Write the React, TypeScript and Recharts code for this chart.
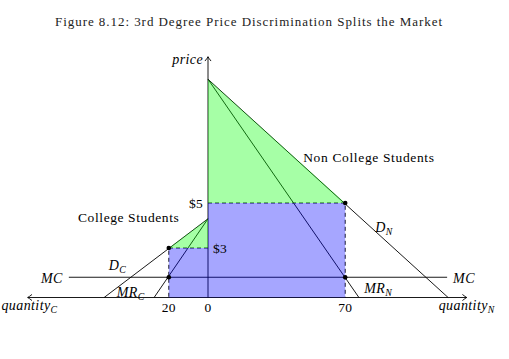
import React from 'react';
import { ComposedChart, Line, Area, Scatter, XAxis, YAxis, ReferenceDot } from 'recharts';

// ---------- data (quantities: N to the right of the price axis, C to the left) ----------
const MARKETS = ['N', 'C'];
const PRICE_N = 5; // price charged to non college students
const QTY_N = 70; // quantity sold to non college students
const PRICE_C = 3; // price charged to college students
const QTY_C = 20; // quantity sold to college students
const MC = 1.7; // marginal cost level
const BASE = 0.8; // price level where the quantity axis sits
const DEMAND_N = [10.5, 122.5]; // [price intercept, quantity intercept]
const MR_N = [10.5, 77];
const DEMAND_C = [4.3, 53];
const MR_C = [4.3, 27.5];
const MC_EXTENT = [71, 122]; // [college side, non college side]
const QTY_AXIS_EXTENT = [92, 132]; // [college side, non college side]
const PRICE_AXIS_TOP = 11.5;
const QTY_TICKS = [-20, 0, 70];
const QTY_TICK_LABELS = ['20', '0', '70'];
const PRICE_TICKS = [5, 3];
const PRICE_TICK_LABELS = ['$5', '$3'];

// ---------- layout ----------
const W = 509;
const H = 359;
const ORIGIN_X = 208;
const PX_PER_Q = 1.96;
const PX_PER_P = 22.5;
const P5_Y = 203;
const X_DOMAIN: [number, number] = [-ORIGIN_X / PX_PER_Q, (W - ORIGIN_X) / PX_PER_Q];
const Y_DOMAIN: [number, number] = [5 - (H - P5_Y) / PX_PER_P, 5 + P5_Y / PX_PER_P];

const SERIF = "'Liberation Serif', 'Times New Roman', serif";

const seg = (pts: number[][], extra: any[] = []) =>
  pts.map((p, i) => ({ x: p[0], y: p[1], ...(extra[i] || {}) }));

const demandN = seg([[0, DEMAND_N[0]], [DEMAND_N[1], BASE]]);
const mrN = seg([[0, MR_N[0]], [MR_N[1], BASE]]);
const demandC = seg([[0, DEMAND_C[0]], [-DEMAND_C[1], BASE]]);
const mrC = seg([[0, MR_C[0]], [-MR_C[1], BASE]]);
const mcLine = seg([[-MC_EXTENT[0], MC], [MC_EXTENT[1], MC]]);
const dashN = seg([[0, PRICE_N], [QTY_N, PRICE_N], [QTY_N, BASE]]);
const dashC = seg([[0, PRICE_C], [-QTY_C, PRICE_C], [-QTY_C, BASE]]);
const priceAxis = seg([[0, BASE], [0, PRICE_AXIS_TOP]], [{}, { arrow: 'up' }]);
const qtyAxis = seg(
  [[-QTY_AXIS_EXTENT[0], BASE], [QTY_AXIS_EXTENT[1], BASE]],
  [{ arrow: 'left' }, { arrow: 'right' }]
);

const greenN = seg([[0, DEMAND_N[0]], [QTY_N, PRICE_N]]);
const blueN = seg([[0, PRICE_N], [QTY_N, PRICE_N]]);
const greenC = seg([[-QTY_C, PRICE_C], [0, DEMAND_C[0]]]);
const blueC = seg([[-QTY_C, PRICE_C], [0, PRICE_C]]);

const dots = seg([[QTY_N, PRICE_N], [QTY_N, MC], [-QTY_C, PRICE_C], [-QTY_C, MC]]);

const arrowDot = (p: any) => {
  const dir = p?.payload?.arrow;
  if (!dir || p.cx == null) return <g key={`ad-${p.index}`} />;
  const v: Record<string, number[]> = { up: [0, -1], left: [-1, 0], right: [1, 0] };
  const [ux, uy] = v[dir];
  const nx = -uy;
  const ny = ux;
  const L = 4;
  const Wd = 2.8;
  const tx = p.cx;
  const ty = p.cy;
  const b1 = [tx - ux * L + nx * Wd, ty - uy * L + ny * Wd];
  const b2 = [tx - ux * L - nx * Wd, ty - uy * L - ny * Wd];
  const c1 = [tx - ux * L * 0.35 + nx * Wd * 0.25, ty - uy * L * 0.35 + ny * Wd * 0.25];
  const c2 = [tx - ux * L * 0.35 - nx * Wd * 0.25, ty - uy * L * 0.35 - ny * Wd * 0.25];
  return (
    <path
      key={`ad-${p.index}`}
      d={`M${b1[0]},${b1[1]} Q${c1[0]},${c1[1]} ${tx},${ty} Q${c2[0]},${c2[1]} ${b2[0]},${b2[1]}`}
      stroke="#000"
      strokeWidth={0.9}
      fill="none"
      strokeLinecap="round"
    />
  );
};

type Lbl = {
  x: number;
  y: number;
  dx: number;
  dy: number;
  anchor: 'start' | 'middle' | 'end';
  main: string;
  sub?: string;
  italic?: boolean;
  size?: number;
  len?: number;
};

const LABELS: Lbl[] = [
  ...PRICE_TICKS.map((p, i) => ({
    x: 0,
    y: p,
    dx: i === 0 ? -5 : 5,
    dy: 4.5,
    anchor: (i === 0 ? 'end' : 'start') as 'end' | 'start',
    main: PRICE_TICK_LABELS[i],
  })),
  ...QTY_TICKS.map((q, i) => ({
    x: q * PX_PER_Q / PX_PER_Q,
    y: BASE,
    dx: 0,
    dy: 14.5,
    anchor: 'middle' as const,
    main: QTY_TICK_LABELS[i],
  })),
  { x: 0, y: PRICE_AXIS_TOP, dx: -5, dy: 7.3, anchor: 'end', main: 'price', italic: true },
  { x: -MC_EXTENT[0], y: MC, dx: -6, dy: 5.7, anchor: 'end', main: 'MC', italic: true },
  { x: MC_EXTENT[1], y: MC, dx: 6, dy: 5.7, anchor: 'start', main: 'MC', italic: true },
  { x: -QTY_AXIS_EXTENT[0], y: BASE, dx: 1.8, dy: 12.5, anchor: 'middle', main: 'quantity', sub: 'C', italic: true },
  { x: QTY_AXIS_EXTENT[1], y: BASE, dx: 0, dy: 12.5, anchor: 'middle', main: 'quantity', sub: 'N', italic: true },
  { x: QTY_N, y: PRICE_N, dx: 30, dy: 28.5, anchor: 'start', main: 'D', sub: 'N', italic: true },
  { x: QTY_N, y: MC, dx: 19, dy: 15.75, anchor: 'start', main: 'MR', sub: 'N', italic: true },
  { x: -QTY_C, y: PRICE_C, dx: -60, dy: 21.5, anchor: 'start', main: 'D', sub: 'C', italic: true },
  { x: -QTY_C, y: MC, dx: -52, dy: 19.75, anchor: 'start', main: 'MR', sub: 'C', italic: true },
  { x: QTY_N, y: PRICE_N, dx: -42, dy: -41, anchor: 'start', main: 'Non College Students', len: 131 },
  { x: -QTY_C, y: PRICE_C, dx: -90.8, dy: -26.5, anchor: 'start', main: 'College Students', len: 101 },
];

const renderLabel = (l: Lbl) => (p: any) => {
  if (p.cx == null) return <g />;
  const size = l.size ?? (l.italic ? 14 : 13.5);
  return (
    <text
      x={p.cx + l.dx}
      y={p.cy + l.dy}
      textAnchor={l.anchor}
      fontFamily={SERIF}
      fontStyle={l.italic ? 'italic' : 'normal'}
      fontSize={size}
      fill="#000"
      letterSpacing={l.italic ? 0.4 : 0.2}
      textLength={l.len}
      lengthAdjust={l.len ? 'spacing' : undefined}
    >
      {l.main}
      {l.sub ? (
        <tspan fontSize={size * 0.7} dy={3}>
          {l.sub}
        </tspan>
      ) : null}
    </text>
  );
};

const lineProps = {
  dataKey: 'y',
  type: 'linear' as const,
  stroke: '#000',
  strokeWidth: 0.9,
  dot: false,
  activeDot: false,
  isAnimationActive: false,
  legendType: 'none' as const,
};

export default function App() {
  return (
    <div style={{ position: 'absolute', left: 0, top: 0, width: W, height: H, background: '#fff' }}>
      <ComposedChart width={W} height={H} margin={{ top: 0, right: 0, bottom: 0, left: 0 }}>
        <XAxis type="number" dataKey="x" domain={X_DOMAIN} allowDataOverflow hide />
        <YAxis type="number" dataKey="y" domain={Y_DOMAIN} allowDataOverflow hide />
        <Line {...lineProps} data={demandN} />
        <Line {...lineProps} data={mrN} />
        <Line {...lineProps} data={demandC} />
        <Line {...lineProps} data={mrC} />
        <Line {...lineProps} data={mcLine} />
        <Line {...lineProps} data={dashN} strokeDasharray="4 3" />
        <Line {...lineProps} data={dashC} strokeDasharray="4 3" />
        <Line {...lineProps} data={priceAxis} dot={arrowDot} />
        <Line {...lineProps} data={qtyAxis} dot={arrowDot} />
        {[greenN, greenC].map((d, i) => (
          <Area
            key={`g${i}`}
            data={d}
            dataKey="y"
            type="linear"
            baseValue={i === 0 ? PRICE_N : PRICE_C}
            fill="#00ff00"
            fillOpacity={0.35}
            stroke="none"
            isAnimationActive={false}
            activeDot={false}
            zIndex={500}
          />
        ))}
        {[blueN, blueC].map((d, i) => (
          <Area
            key={`b${i}`}
            data={d}
            dataKey="y"
            type="linear"
            baseValue={BASE}
            fill="#0000ff"
            fillOpacity={0.35}
            stroke="none"
            isAnimationActive={false}
            activeDot={false}
            zIndex={500}
          />
        ))}
        <Scatter
          data={dots}
          dataKey="y"
          isAnimationActive={false}
          zIndex={700}
          shape={(p: any) => <circle cx={p.cx} cy={p.cy} r={2.3} fill="#000" />}
        />
        {LABELS.map((l, i) => (
          <ReferenceDot key={`l${i}`} x={l.x} y={l.y} r={1} shape={renderLabel(l)} zIndex={800} />
        ))}
      </ComposedChart>
      <svg
        width={W}
        height={40}
        style={{ position: 'absolute', left: 0, top: 0, pointerEvents: 'none' }}
      >
        <text x={55} y={26} fontFamily={SERIF} fontSize={13} fill="#222" textLength={387} lengthAdjust="spacing">
          Figure 8.12: 3rd Degree Price Discrimination Splits the Market
        </text>
      </svg>
      <span style={{ display: 'none' }}>{MARKETS.join(',')}</span>
    </div>
  );
}
